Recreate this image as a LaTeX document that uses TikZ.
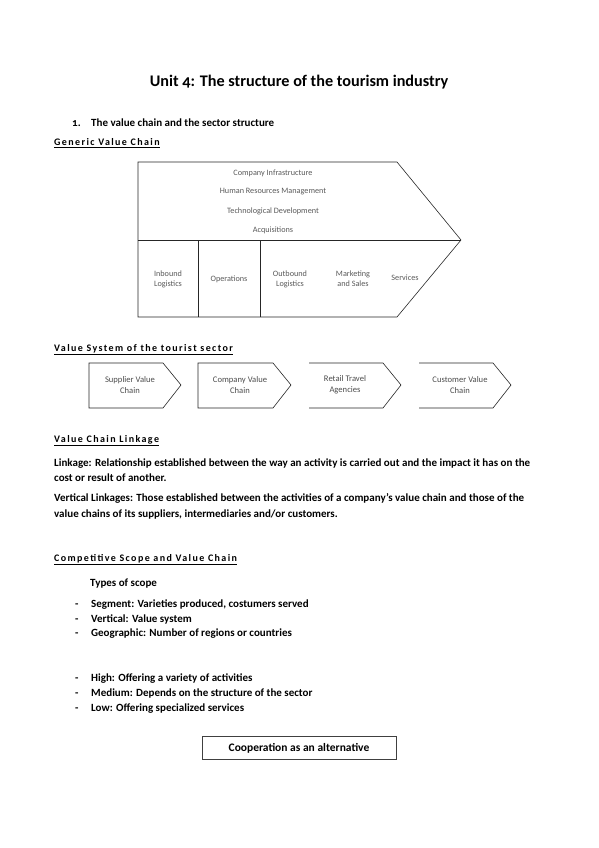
\documentclass[tikz,border=0pt]{standalone}
\usepackage{fontspec}
\setmainfont{Carlito}[Numbers=OldStyle]
\newfontfamily\spacedfont[LetterSpace=14]{Carlito}
\usepackage{tikz}
\usetikzlibrary{positioning}
\tikzset{
    txt/.style={
      anchor=base west,
      inner sep=0pt,
      font=\bfseries\fontsize{11}{13}\selectfont,
    },
    heading/.style={
      anchor=base west,
      inner sep=0pt,
      font=\spacedfont\bfseries\fontsize{10}{12}\selectfont,
    },
    activity/.style={
      inner sep=0pt,
      align=center,
      text=black!65,
      font=\fontsize{8.2}{10}\selectfont,
    },
    link/.style={
      inner sep=0pt,
      align=center,
      text=black!70,
      font=\fontsize{8.6}{11}\selectfont,
    },
    chain/.style={draw=black!85, line width=0.6pt},
    coop/.style={
      rectangle,
      draw=black!75, line width=0.8pt,
      minimum width=194pt, minimum height=23pt,
      inner sep=2pt,
      text centered,
      font=\bfseries\fontsize{11.5}{13}\selectfont,
    },
}

\begin{document}
\begin{tikzpicture}[x=1pt,y=-1pt]
    \useasboundingbox (0,0) rectangle (599,848);

    % title and section
    \node[inner sep=0pt, anchor=base,
      font=\bfseries\fontsize{16.2}{19}\selectfont] (TITLE) at (299,87)
      {Unit 4: The structure of the tourism industry};
    \node[txt] (SECNUM) at (72,126) {1.};
    \node[txt] (SEC) at (91,126) {The value chain and the sector structure};

    % generic value chain
    \node[heading] (HGVC) at (54,146) {\underline{Generic Value Chain}};

    \coordinate (TL) at (138,162);
    \coordinate (TR) at (397,162);
    \coordinate (TIP) at (461,240);
    \coordinate (BR) at (397,317);
    \coordinate (BL) at (138,317);
    \coordinate (ML) at (138,240);
    \draw[chain] (TL) -- (TR) -- (TIP) -- (BR) -- (BL) -- cycle;
    \draw[chain] (ML) -- (TIP);
    \draw[chain] (198,240) -- (198,317);
    \draw[chain] (260,240) -- (260,317);

    \node[activity] (INFRA) at (273,173) {Company Infrastructure};
    \node[activity] (HRM) at (273,192) {Human Resources Management};
    \node[activity] (TECH) at (273,211) {Technological Development};
    \node[activity] (ACQ) at (273,230) {Acquisitions};

    \node[activity] (INB) at (168,279) {Inbound\\Logistics};
    \node[activity] (OPS) at (229,279) {Operations};
    \node[activity] (OUTB) at (290,279) {Outbound\\Logistics};
    \node[activity] (MKT) at (353,279) {Marketing\\and Sales};
    \node[activity] (SERV) at (405,278) {Services};

    % value system
    \node[heading] (HVS) at (54,351) {\underline{Value System of the tourist sector}};

    \draw[chain] (89,363) -- (163,363) -- (181,385) -- (163,408) -- (89,408) -- cycle;
    \draw[chain] (198,363) -- (273,363) -- (291,385) -- (273,408) -- (198,408) -- cycle;
    \draw[chain] (309,363) -- (383,363) -- (401,385) -- (383,408) -- (309,408);
    \draw[chain] (419,363) -- (493,363) -- (511,385) -- (493,408) -- (419,408);

    \node[link] (SVC) at (130,385) {Supplier Value\\Chain};
    \node[link] (CVC) at (240,385) {Company Value\\Chain};
    \node[link] (RTA) at (345,385) {Retail Travel\\Agencies};
    \node[link] (CUVC) at (460,385) {Customer Value\\Chain};

    % linkage
    \node[heading] (HVCL) at (54,442) {\underline{Value Chain Linkage}};
    \node[txt] (L1) at (54,466)
      {Linkage: Relationship established between the way an activity is carried out and the impact it has on the};
    \node[txt] (L2) at (54,481) {cost or result of another.};
    \node[txt] (V1) at (54,501)
      {Vertical Linkages: Those established between the activities of a company's value chain and those of the};
    \node[txt] (V2) at (54,517) {value chains of its suppliers, intermediaries and/or customers.};

    % competitive scope
    \node[heading] (HCS) at (54,561) {\underline{Competitive Scope and Value Chain}};
    \node[txt] (TYPES) at (90,586) {Types of scope};

    \node[txt] (D1) at (75,607) {-};
    \node[txt] (S1) at (91,607) {Segment: Varieties produced, costumers served};
    \node[txt] (D2) at (75,622) {-};
    \node[txt] (S2) at (91,622) {Vertical: Value system};
    \node[txt] (D3) at (75,636) {-};
    \node[txt] (S3) at (91,636) {Geographic: Number of regions or countries};

    \node[txt] (D4) at (75,681) {-};
    \node[txt] (S4) at (91,681) {High: Offering a variety of activities};
    \node[txt] (D5) at (75,696) {-};
    \node[txt] (S5) at (91,696) {Medium: Depends on the structure of the sector};
    \node[txt] (D6) at (75,711) {-};
    \node[txt] (S6) at (91,711) {Low: Offering specialized services};

    \node[coop] (COOP) at (299,748) {Cooperation as an alternative};

\end{tikzpicture}
\end{document}
